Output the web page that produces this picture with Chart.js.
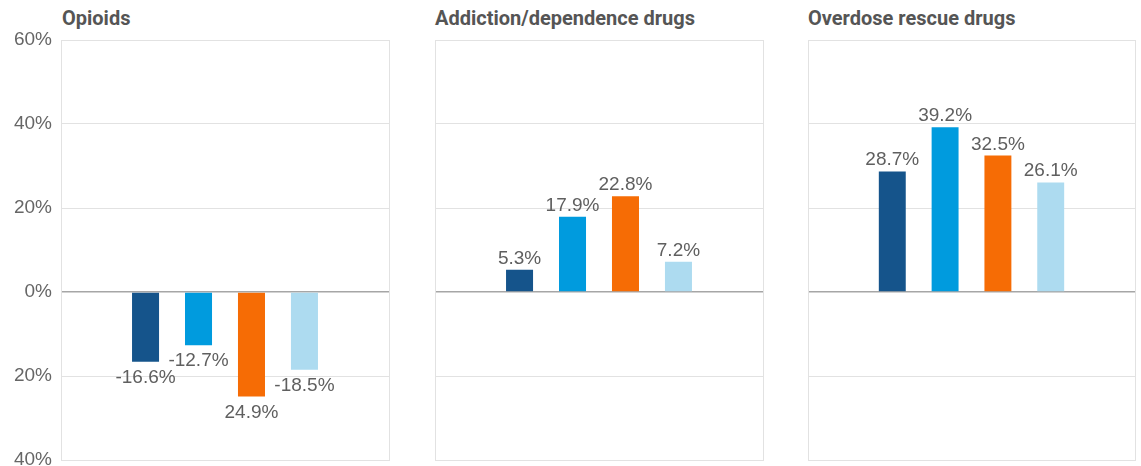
<!DOCTYPE html>
<html>
<head>
<meta charset="utf-8">
<script src="https://cdn.jsdelivr.net/npm/chart.js@4.4.1/dist/chart.umd.min.js"></script>
<style>
  html, body { margin: 0; padding: 0; background: #fff; }
  #wrap { position: relative; width: 1141px; height: 466px; overflow: hidden; }
  .panel { position: absolute; top: 0; height: 500px; }
  .title { position: absolute; top: 6px; font: bold 20px Roboto, sans-serif; color: #555; white-space: nowrap; }
</style>
</head>
<body>
<div id="wrap">
  <div class="title" id="t0" style="left:62px"></div>
  <div class="title" id="t1" style="left:435px"></div>
  <div class="title" id="t2" style="left:808px"></div>
  <div class="panel" style="left:0;width:395px"><canvas id="c0"></canvas></div>
  <div class="panel" style="left:429px;width:340px"><canvas id="c1"></canvas></div>
  <div class="panel" style="left:802px;width:339px"><canvas id="c2"></canvas></div>
</div>
<script>
// panels
const categories = ["Opioids", "Addiction/dependence drugs", "Overdose rescue drugs"];

// four series, one value per panel
const seriesA = [-16.6, 5.3, 28.7];
const seriesB = [-12.7, 17.9, 39.2];
const seriesC = [-24.9, 22.8, 32.5];
const seriesD = [-18.5, 7.2, 26.1];

// bar labels as printed on the chart
const labelsA = ["-16.6%", "5.3%", "28.7%"];
const labelsB = ["-12.7%", "17.9%", "39.2%"];
const labelsC = ["24.9%", "22.8%", "32.5%"];
const labelsD = ["-18.5%", "7.2%", "26.1%"];

const yTicks = [60, 40, 20, 0, -20, -40];
const yTickLabels = ["60%", "40%", "20%", "0%", "20%", "40%"];

const colors = ["#15548b", "#009bde", "#f66c05", "#addbf0"];
const allSeries = [seriesA, seriesB, seriesC, seriesD];
const allLabels = [labelsA, labelsB, labelsC, labelsD];

const barLabels = {
  id: "barLabels",
  afterDatasetsDraw(chart) {
    const ctx = chart.ctx;
    ctx.save();
    ctx.font = "19px 'Liberation Sans', Arial, sans-serif";
    ctx.fillStyle = "#5f5f5f";
    ctx.textAlign = "center";
    ctx.textBaseline = "alphabetic";
    chart.data.datasets.forEach((ds, i) => {
      const bar = chart.getDatasetMeta(i).data[0];
      const v = ds.data[0];
      if (v >= 0) ctx.fillText(ds.labelText, bar.x, bar.y - 6);
      else ctx.fillText(ds.labelText, bar.x, bar.y + 21);
    });
    ctx.restore();
  }
};

function drawPanel(idx) {
  document.getElementById("t" + idx).innerText = categories[idx];
  const first = idx === 0;
  const ctx = document.getElementById("c" + idx).getContext("2d");
  new Chart(ctx, {
    type: "bar",
    data: {
      labels: [categories[idx]],
      datasets: allSeries.map((s, i) => ({
        data: [s[idx]],
        labelText: allLabels[i][idx],
        backgroundColor: colors[i],
        categoryPercentage: 0.646,
        barPercentage: 0.51
      }))
    },
    options: {
      responsive: true,
      maintainAspectRatio: false,
      animation: false,
      layout: { padding: { top: 40, bottom: 40, left: first ? 0 : 6, right: 6 } },
      plugins: { legend: { display: false }, tooltip: { enabled: false } },
      scales: {
        x: {
          ticks: { display: false },
          grid: { color: "#e2e2e2", drawTicks: false, offset: true },
          border: { color: "#e2e2e2" }
        },
        y: {
          min: -40,
          max: 60,
          afterBuildTicks: s => { s.ticks = yTicks.map(v => ({ value: v })); },
          afterFit: s => { s.width = first ? 61 : 0; },
          ticks: {
            display: first,
            padding: 9,
            color: "#666",
            font: { family: "'Liberation Sans', Arial, sans-serif", size: 19 },
            callback: v => yTickLabels[yTicks.indexOf(v)]
          },
          grid: {
            drawTicks: false,
            color: c => c.tick && c.tick.value === 0 ? "#a6a6a6" : "#e2e2e2",
            lineWidth: c => c.tick && c.tick.value === 0 ? 1.5 : 1
          },
          border: { color: "#e2e2e2" }
        }
      }
    },
    plugins: [barLabels]
  });
}

categories.forEach((c, i) => drawPanel(i));
</script>
</body>
</html>
